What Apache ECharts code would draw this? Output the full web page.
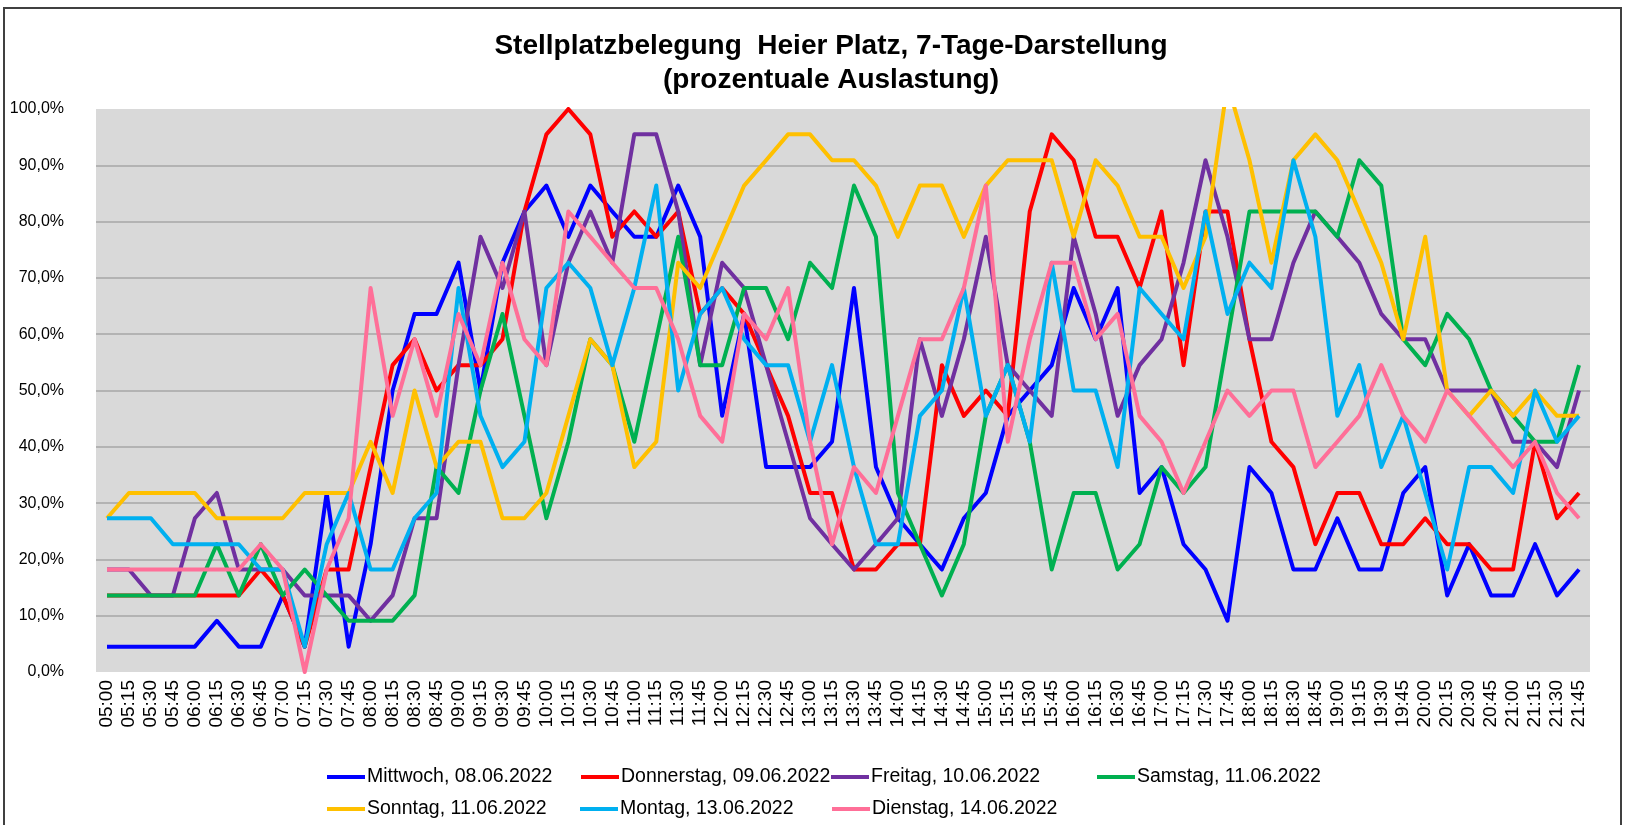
<!DOCTYPE html>
<html>
<head>
<meta charset="utf-8">
<title>Stellplatzbelegung Heier Platz</title>
<script src="https://cdn.jsdelivr.net/npm/echarts@6/dist/echarts.min.js"></script>
<style>
  html, body { margin: 0; padding: 0; background: #fff; }
  #main { width: 1626px; height: 825px; }
</style>
</head>
<body>
<div id="main"></div>
<script>
// Uhrzeiten (x-Achse)
const times = ['05:00','05:15','05:30','05:45','06:00','06:15','06:30','06:45','07:00','07:15','07:30','07:45',
  '08:00','08:15','08:30','08:45','09:00','09:15','09:30','09:45','10:00','10:15','10:30','10:45',
  '11:00','11:15','11:30','11:45','12:00','12:15','12:30','12:45','13:00','13:15','13:30','13:45',
  '14:00','14:15','14:30','14:45','15:00','15:15','15:30','15:45','16:00','16:15','16:30','16:45',
  '17:00','17:15','17:30','17:45','18:00','18:15','18:30','18:45','19:00','19:15','19:30','19:45',
  '20:00','20:15','20:30','20:45','21:00','21:15','21:30','21:45'];

// Auslastung in Prozent je Tag
const mittwoch = [4.5,4.5,4.5,4.5,4.5,9.1,4.5,4.5,13.6,4.5,31.8,4.5,22.7,50,63.6,63.6,72.7,50,72.7,81.8,
  86.4,77.3,86.4,81.8,77.3,77.3,86.4,77.3,45.5,63.6,36.4,36.4,36.4,40.9,68.2,36.4,27.3,22.7,18.2,27.3,
  31.8,45.5,50,54.5,68.2,59.1,68.2,31.8,36.4,22.7,18.2,9.1,36.4,31.8,18.2,18.2,27.3,18.2,18.2,31.8,
  36.4,13.6,22.7,13.6,13.6,22.7,13.6,18.2];
const donnerstag = [13.6,13.6,13.6,13.6,13.6,13.6,13.6,18.2,13.6,4.5,18.2,18.2,36.4,54.5,59.1,50,54.5,54.5,59.1,81.8,
  95.5,100,95.5,77.3,81.8,77.3,81.8,63.6,68.2,63.6,54.5,45.5,31.8,31.8,18.2,18.2,22.7,22.7,54.5,45.5,
  50,45.5,81.8,95.5,90.9,77.3,77.3,68.2,81.8,54.5,81.8,81.8,59.1,40.9,36.4,22.7,31.8,31.8,22.7,22.7,
  27.3,22.7,22.7,18.2,18.2,40.9,27.3,31.8];
const freitag = [18.2,18.2,13.6,13.6,27.3,31.8,18.2,18.2,18.2,13.6,13.6,13.6,9.1,13.6,27.3,27.3,54.5,77.3,68.2,81.8,
  54.5,72.7,81.8,72.7,95.5,95.5,81.8,54.5,72.7,68.2,54.5,40.9,27.3,22.7,18.2,22.7,27.3,59.1,45.5,59.1,
  77.3,54.5,50,45.5,77.3,63.6,45.5,54.5,59.1,72.7,90.9,77.3,59.1,59.1,72.7,81.8,77.3,72.7,63.6,59.1,
  59.1,50,50,50,40.9,40.9,36.4,50];
const samstag = [13.6,13.6,13.6,13.6,13.6,22.7,13.6,22.7,13.6,18.2,13.6,9.1,9.1,9.1,13.6,36.4,31.8,50,63.6,45.5,
  27.3,40.9,59.1,54.5,40.9,59.1,77.3,54.5,54.5,68.2,68.2,59.1,72.7,68.2,86.4,77.3,31.8,22.7,13.6,22.7,
  45.5,54.5,40.9,18.2,31.8,31.8,18.2,22.7,36.4,31.8,36.4,59.1,81.8,81.8,81.8,81.8,77.3,90.9,86.4,59.1,
  54.5,63.6,59.1,50,45.5,40.9,40.9,54.5];
const sonntag = [27.3,31.8,31.8,31.8,31.8,27.3,27.3,27.3,27.3,31.8,31.8,31.8,40.9,31.8,50,36.4,40.9,40.9,27.3,27.3,
  31.8,45.5,59.1,54.5,36.4,40.9,72.7,68.2,77.3,86.4,90.9,95.5,95.5,90.9,90.9,86.4,77.3,86.4,86.4,77.3,
  86.4,90.9,90.9,90.9,77.3,90.9,86.4,77.3,77.3,68.2,77.3,104.5,90.9,72.7,90.9,95.5,90.9,81.8,72.7,59.1,
  77.3,50,45.5,50,45.5,50,45.5,45.5];
const montag = [27.3,27.3,27.3,22.7,22.7,22.7,22.7,18.2,18.2,4.5,22.7,31.8,18.2,18.2,27.3,31.8,68.2,45.5,36.4,40.9,
  68.2,72.7,68.2,54.5,68.2,86.4,50,63.6,68.2,59.1,54.5,54.5,40.9,54.5,36.4,22.7,22.7,45.5,50,68.2,
  45.5,54.5,40.9,72.7,50,50,36.4,68.2,63.6,59.1,81.8,63.6,72.7,68.2,90.9,77.3,45.5,54.5,36.4,45.5,
  31.8,18.2,36.4,36.4,31.8,50,40.9,45.5];
const dienstag = [18.2,18.2,18.2,18.2,18.2,18.2,18.2,22.7,18.2,0,18.2,27.3,68.2,45.5,59.1,45.5,63.6,54.5,72.7,59.1,
  54.5,81.8,77.3,72.7,68.2,68.2,59.1,45.5,40.9,63.6,59.1,68.2,40.9,22.7,36.4,31.8,45.5,59.1,59.1,68.2,
  86.4,40.9,59.1,72.7,72.7,59.1,63.6,45.5,40.9,31.8,40.9,50,45.5,50,50,36.4,40.9,45.5,54.5,45.5,
  40.9,50,45.5,40.9,36.4,40.9,31.8,27.3];

const days = [
  { name: 'Mittwoch, 08.06.2022', data: mittwoch, color: '#0000ff' },
  { name: 'Donnerstag, 09.06.2022', data: donnerstag, color: '#ff0000' },
  { name: 'Freitag, 10.06.2022', data: freitag, color: '#7030a0' },
  { name: 'Samstag, 11.06.2022', data: samstag, color: '#00b050' },
  { name: 'Sonntag, 11.06.2022', data: sonntag, color: '#ffc000' },
  { name: 'Montag, 13.06.2022', data: montag, color: '#00b0f0' },
  { name: 'Dienstag, 14.06.2022', data: dienstag, color: '#ff6f98' }
];

// Legendenplätze (zwei Zeilen, vier Spalten)
const legendPos = [[327, 767], [581, 767], [831, 767], [1097, 767], [327, 799], [580, 799], [832, 799]];

const font = '"Liberation Sans", Arial, sans-serif';
const chart = echarts.init(document.getElementById('main'));

const option = {
  animation: false,
  textStyle: { fontFamily: font },
  title: {
    text: 'Stellplatzbelegung  Heier Platz, 7-Tage-Darstellung\n(prozentuale Auslastung)',
    left: 826,
    top: 24,
    textAlign: 'center',
    textStyle: { fontSize: 28, fontWeight: 'bold', color: '#000', lineHeight: 34, fontFamily: font }
  },
  graphic: [{
    type: 'rect',
    shape: { x: 4, y: 8, width: 1617, height: 840 },
    style: { fill: 'none', stroke: '#404040', lineWidth: 2 },
    silent: true
  }],
  legend: days.map((d, i) => ({
    data: [d.name],
    left: legendPos[i][0],
    top: legendPos[i][1],
    padding: 0,
    icon: 'rect',
    itemWidth: 38,
    itemHeight: 4,
    textStyle: { fontSize: 19.5, color: '#000', fontFamily: font, padding: [0, 0, 0, -3] }
  })),
  grid: {
    left: 96, right: 36, top: 109, bottom: 153,
    show: true, backgroundColor: '#d9d9d9', borderWidth: 0
  },
  xAxis: {
    type: 'category',
    data: times,
    boundaryGap: true,
    axisLine: { show: false },
    axisTick: { show: false },
    axisLabel: { interval: 0, rotate: 90, fontSize: 19, color: '#000', margin: 8, fontFamily: font }
  },
  yAxis: {
    type: 'value',
    min: 0,
    max: 100,
    interval: 10,
    axisLine: { show: false },
    axisTick: { show: false },
    axisLabel: {
      fontSize: 16, color: '#000', margin: 32, fontFamily: font,
      formatter: v => v.toFixed(1).replace('.', ',') + '%'
    },
    splitLine: { show: true, showMinLine: false, showMaxLine: false, lineStyle: { color: '#a6a6a6', width: 1.5 } }
  },
  series: days.map(d => ({
    name: d.name,
    type: 'line',
    data: d.data,
    symbol: 'none',
    clip: true,
    color: d.color,
    lineStyle: { width: 4, color: d.color, join: 'round' }
  }))
};

chart.setOption(option);
</script>
</body>
</html>
